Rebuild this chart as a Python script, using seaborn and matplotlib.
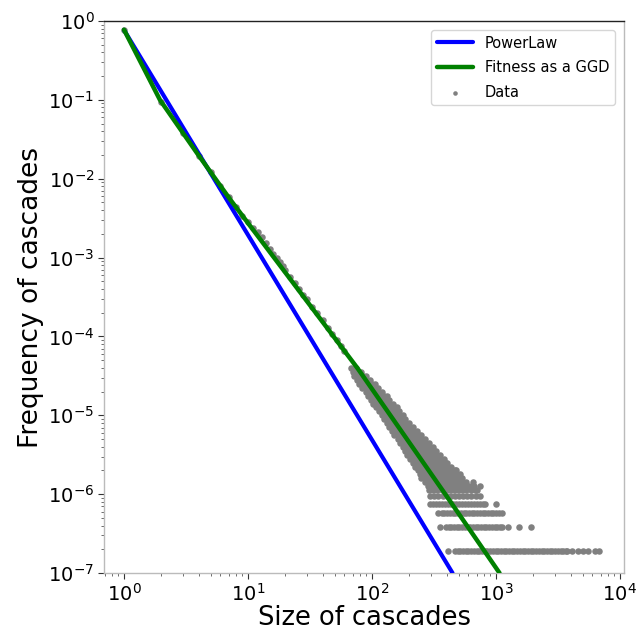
import matplotlib
matplotlib.use("Agg")
import matplotlib.pyplot as plt
import matplotlib.ticker as mticker
import seaborn as sns
import numpy as np
import pandas as pd

# ---------------- data ----------------
# Power-law fit (straight line in log-log): endpoints
powerlaw_x = [1.0, 447.0]
powerlaw_y = [0.77, 1e-7]

# Fitness-as-GGD fit: points
ggd_x = [1.0, 1.95, 3.9, 7.16, 77.0, 407.0, 1070.0]
ggd_y = [0.776, 0.1, 0.0209, 0.0055, 3.9e-5, 9.1e-7, 1e-7]

# Data: small sizes (along the fitted curve)
small_x = [1, 2, 3, 4, 5, 6, 7, 8, 9, 10, 11, 12, 13, 14, 15, 16, 17, 18, 19, 20,
           22, 24, 26, 28, 30, 33, 36, 40, 44, 48, 52, 56, 60]
small_y = [0.776, 0.093, 0.038, 0.0195, 0.012, 0.0081, 0.0058, 0.0044, 0.0034,
           0.00285, 0.0024, 0.0021, 0.00182, 0.00152, 0.00128, 0.00112, 0.00098,
           0.00087, 0.00078, 0.00070, 0.00057, 0.00048, 0.0004, 0.00034, 0.000295,
           0.000236, 0.000196, 0.000160, 0.000129, 0.000107, 8.9e-5, 7.6e-5, 6.6e-5]

# Data: scattered cloud (frequency level -> sizes at that level)
cloud_levels = [3.98e-5, 3.55e-5, 3.16e-5, 2.82e-5, 2.51e-5, 2.24e-5,
                2.0e-5, 1.78e-5, 1.58e-5, 1.41e-5, 1.26e-5, 1.12e-5, 1.0e-5, 8.9e-6,
                7.9e-6, 7.1e-6, 6.3e-6, 5.6e-6, 5.0e-6, 4.47e-6, 3.98e-6, 3.55e-6,
                3.16e-6, 2.82e-6, 2.51e-6, 2.24e-6, 2.0e-6, 1.78e-6, 1.58e-6, 1.41e-6,
                1.26e-6, 1.14e-6, 9.5e-7]
cloud_sizes = [
    [68, 74],
    [70, 77, 82],
    [72, 78, 84, 90],
    [76, 82, 89, 96],
    [79, 86, 93, 100, 105],
    [83, 90, 97, 105, 113],
    [89, 96, 104, 112, 121],
    [93, 100, 108, 117, 126, 132],
    [98, 106, 114, 123, 131, 138],
    [102, 110, 119, 128, 138, 148],
    [107, 116, 125, 135, 146, 158],
    [115, 124, 134, 144, 155, 166],
    [120, 130, 140, 151, 163, 178],
    [126, 136, 147, 158, 170, 186],
    [132, 142, 153, 165, 178, 190, 200],
    [138, 149, 160, 172, 186, 200, 214],
    [145, 156, 168, 181, 195, 210, 229],
    [151, 163, 176, 190, 205, 221, 240, 251],
    [162, 174, 187, 201, 217, 234, 252, 269],
    [170, 183, 197, 212, 229, 247, 266, 288],
    [178, 192, 207, 223, 241, 260, 281, 309],
    [186, 201, 217, 234, 252, 272, 294, 316, 331],
    [191, 206, 223, 241, 260, 281, 303, 327, 355],
    [204, 220, 238, 257, 277, 299, 323, 349, 380],
    [214, 231, 249, 269, 290, 313, 338, 365, 395, 407],
    [224, 242, 261, 282, 304, 328, 354, 383, 413, 436],
    [234, 253, 273, 295, 318, 343, 371, 400, 432, 466, 480],
    [245, 265, 286, 308, 333, 359, 388, 418, 452, 488, 513],
    [251, 271, 293, 316, 341, 368, 397, 429, 463, 500, 537],
    [269, 290, 313, 338, 365, 394, 426, 460, 496, 536, 579, 650],
    [282, 304, 328, 355, 383, 414, 447, 482, 521, 563, 608, 660, 741],
    [290, 313, 338, 365, 394, 426, 460, 496, 536, 579, 625, 675, 700],
    [294, 318, 343, 371, 400, 432, 466, 504, 544, 587, 634, 685, 743],
]

# Data: lowest discrete rows (count / N)
row4_y = 7.6e-7
row4_x = [294, 310, 328, 346, 366, 386, 408, 431, 455, 481, 508, 537, 567, 599,
          633, 669, 706, 746, 788, 815, 1000]
row3_y = 5.7e-7
row3_x = [340, 367, 385, 405, 426, 448, 471, 495, 521, 548, 576, 606, 637, 670,
          705, 741, 780, 820, 862, 907, 954, 1003, 1055, 1117]
row2_y = 3.8e-7
row2_x = [353, 395, 415, 437, 459, 483, 508, 534, 562, 591, 621, 653, 687, 723,
          760, 799, 840, 884, 930, 978, 1028, 1081, 1117, 1250, 1530, 1915]
row1_y = 1.9e-7
row1_x = [410, 467, 491, 516, 543, 571, 600, 631, 664, 698, 734, 772, 812, 854,
          898, 944, 993, 1044, 1098, 1155, 1214, 1277, 1343, 1412, 1485, 1562,
          1642, 1727, 1816, 1910, 2008, 2112, 2221, 2336, 2456, 2583, 2716, 2856,
          3004, 3159, 3322, 3493, 3673, 3740, 4100, 4580, 5030, 5520, 6290, 6770]

# Axis tick positions
x_ticks = [1e0, 1e1, 1e2, 1e3, 1e4]
y_ticks = [1e-7, 1e-6, 1e-5, 1e-4, 1e-3, 1e-2, 1e-1, 1e0]

# ---------------- assemble ----------------
xs = list(small_x)
ys = list(small_y)
for lvl, sizes in zip(cloud_levels, cloud_sizes):
    xs += sizes
    ys += [lvl] * len(sizes)
for rx, ry in [(row4_x, row4_y), (row3_x, row3_y), (row2_x, row2_y), (row1_x, row1_y)]:
    xs += rx
    ys += [ry] * len(rx)
data_df = pd.DataFrame({"size": xs, "freq": ys})
pl_df = pd.DataFrame({"size": powerlaw_x, "freq": powerlaw_y})
ggd_df = pd.DataFrame({"size": ggd_x, "freq": ggd_y})

sns.set_style("ticks")
plt.rcParams["font.family"] = ["DejaVu Sans"]
plt.rcParams["text.color"] = "black"
plt.rcParams["axes.labelcolor"] = "black"
plt.rcParams["xtick.color"] = "black"
plt.rcParams["ytick.color"] = "black"

fig = plt.figure(figsize=(6.39, 6.30), dpi=100)
ax = fig.add_axes([104 / 639, 57 / 630, 520 / 639, 552 / 630])

sns.scatterplot(data=data_df, x="size", y="freq", ax=ax, color="gray", s=22,
                linewidth=0, label="Data", zorder=2)
sns.lineplot(data=pl_df, x="size", y="freq", ax=ax, color="blue", linewidth=3,
             label="PowerLaw", zorder=3, estimator=None)
sns.lineplot(data=ggd_df, x="size", y="freq", ax=ax, color="green", linewidth=3.2,
             label="Fitness as a GGD", zorder=4, estimator=None)

ax.set_xscale("log")
ax.set_yscale("log")
ax.set_xlim(0.69, 10800)
ax.set_ylim(1e-7, 1)
ax.xaxis.set_major_locator(mticker.FixedLocator(x_ticks))
ax.yaxis.set_major_locator(mticker.FixedLocator(y_ticks))
ax.xaxis.set_major_formatter(mticker.LogFormatterSciNotation())
ax.yaxis.set_major_formatter(mticker.LogFormatterSciNotation())
ax.xaxis.set_minor_locator(mticker.LogLocator(base=10, subs=np.arange(2, 10) * 1.0, numticks=20))
ax.yaxis.set_minor_locator(mticker.LogLocator(base=10, subs=np.arange(2, 10) * 1.0, numticks=20))
ax.xaxis.set_minor_formatter(mticker.NullFormatter())
ax.yaxis.set_minor_formatter(mticker.NullFormatter())

ax.set_xlabel("Size of cascades", fontsize=18.5, labelpad=0)
ax.set_ylabel("Frequency of cascades", fontsize=19, labelpad=3)
ax.tick_params(axis="both", which="major", labelsize=14, length=4, width=0.8,
               color="#333333", labelcolor="black", pad=3)
ax.tick_params(axis="both", which="minor", length=2, width=0.6, color="#555555")

for side in ["left", "right", "bottom"]:
    ax.spines[side].set_color("#bbbbbb")
    ax.spines[side].set_linewidth(1.0)
ax.spines["top"].set_color("#222222")
ax.spines["top"].set_linewidth(1.0)
ax.spines["top"].set_visible(True)
ax.spines["right"].set_visible(True)

handles, labels = ax.get_legend_handles_labels()
order = [labels.index("PowerLaw"), labels.index("Fitness as a GGD"), labels.index("Data")]
leg = ax.legend([handles[i] for i in order], [labels[i] for i in order],
                loc="upper right", fontsize=10.5, handlelength=2.5, frameon=True,
                borderaxespad=0.6, markerscale=0.7, labelspacing=0.65)
for t in leg.get_texts():
    t.set_color("black")

fig.savefig("out.png", dpi=100)
